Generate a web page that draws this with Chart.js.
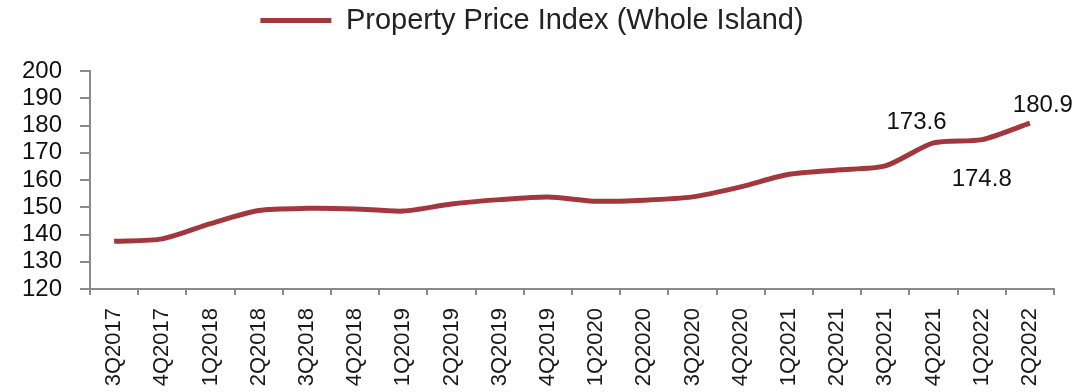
<!DOCTYPE html>
<html>
<head>
<meta charset="utf-8">
<script src="https://cdn.jsdelivr.net/npm/chart.js@4.4.1/dist/chart.umd.min.js"></script>
<style>
  html, body { margin: 0; padding: 0; background: #ffffff; }
  #wrap { width: 1077px; height: 392px; position: relative; }
</style>
</head>
<body>
<div id="wrap"><canvas id="c" width="1077" height="392"></canvas></div>
<script>
// ---- data ----
const categories = ['3Q2017','4Q2017','1Q2018','2Q2018','3Q2018','4Q2018','1Q2019','2Q2019','3Q2019','4Q2019',
                    '1Q2020','2Q2020','3Q2020','4Q2020','1Q2021','2Q2021','3Q2021','4Q2021','1Q2022','2Q2022'];
const priceIndex = [137.5,138.4,144.0,148.8,149.6,149.4,148.6,151.2,152.8,153.8,
                    152.2,152.6,153.8,157.5,162.1,163.7,165.2,173.6,174.8,180.9];
const seriesName = 'Property Price Index (Whole Island)';
const labelledIndices = [17, 18, 19];
const yMin = 120, yMax = 200, yStep = 10;

// ---- styles ----
const FONT = "'Liberation Sans', Arial, sans-serif";
const LINE_COLOR = '#A2383D';
const AXIS_COLOR = '#8a8a8a';
const labelOffsets = { 17: [-17, -21], 18: [0, 40], 19: [13, -18] };

const valueLabels = {
  id: 'valueLabels',
  afterDatasetsDraw(chart) {
    const ctx = chart.ctx;
    const meta = chart.getDatasetMeta(0);
    ctx.save();
    ctx.font = '24px ' + FONT;
    ctx.fillStyle = '#111111';
    ctx.textAlign = 'center';
    ctx.textBaseline = 'middle';
    labelledIndices.forEach(i => {
      const pt = meta.data[i];
      const off = labelOffsets[i] || [0, -20];
      ctx.fillText(priceIndex[i].toFixed(1), pt.x + off[0], pt.y + off[1]);
    });
    ctx.restore();
  }
};

const legendGap = {
  id: 'legendGap',
  beforeInit(chart) {
    const origFit = chart.legend.fit;
    chart.legend.fit = function () {
      origFit.bind(chart.legend)();
      this.height += 26;
    };
  }
};

new Chart(document.getElementById('c'), {
  type: 'line',
  data: {
    labels: categories,
    datasets: [{
      label: seriesName,
      data: priceIndex,
      borderColor: LINE_COLOR,
      backgroundColor: LINE_COLOR,
      borderWidth: 5,
      pointRadius: 0,
      pointHoverRadius: 0,
      tension: 0.25,
      fill: false
    }]
  },
  options: {
    responsive: false,
    animation: false,
    devicePixelRatio: 1,
    layout: { padding: { left: 10, right: 23, top: 0, bottom: 0 } },
    plugins: {
      tooltip: { enabled: false },
      legend: {
        display: true,
        position: 'top',
        align: 'center',
        labels: {
          usePointStyle: true,
          pointStyle: 'line',
          pointStyleWidth: 71,
          boxHeight: 29,
          padding: 6,
          color: '#222222',
          font: { family: FONT, size: 29 }
        }
      }
    },
    scales: {
      x: {
        type: 'category',
        offset: true,
        afterFit(scale) { scale.height = 103; },
        grid: {
          display: true,
          offset: true,
          drawOnChartArea: false,
          drawTicks: true,
          tickLength: 6,
          color: AXIS_COLOR,
          lineWidth: 2
        },
        border: { display: true, color: AXIS_COLOR, width: 2 },
        ticks: {
          autoSkip: false,
          minRotation: 90,
          maxRotation: 90,
          padding: 13,
          color: '#1a1a1a',
          font: { family: FONT, size: 22 }
        }
      },
      y: {
        min: yMin,
        max: yMax,
        afterFit(scale) { scale.width = 80; },
        grid: {
          display: true,
          drawOnChartArea: false,
          drawTicks: true,
          tickLength: 10,
          color: AXIS_COLOR,
          lineWidth: 2
        },
        border: { display: true, color: AXIS_COLOR, width: 2 },
        ticks: {
          autoSkip: false,
          stepSize: yStep,
          padding: 18,
          color: '#111111',
          font: { family: FONT, size: 24 }
        }
      }
    }
  },
  plugins: [legendGap, valueLabels]
});
</script>
</body>
</html>
